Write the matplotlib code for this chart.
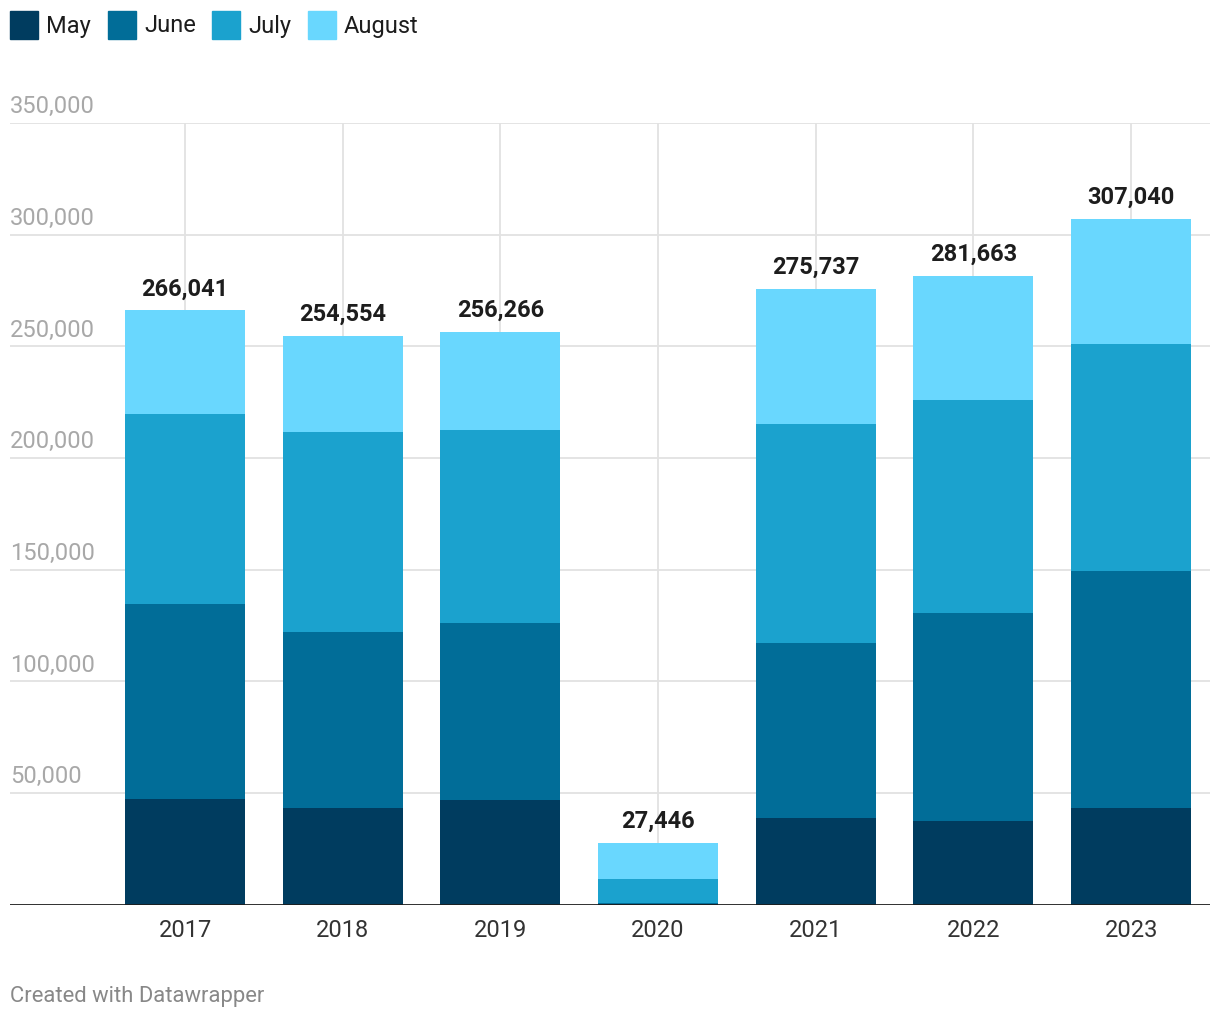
import matplotlib.pyplot as plt
from matplotlib.patches import Rectangle
import numpy as np

plt.rcParams['font.family'] = ['Roboto', 'DejaVu Sans']

# data
years = ['2017', '2018', '2019', '2020', '2021', '2022', '2023']
months = ['May', 'June', 'July', 'August']
may = [47200, 43200, 46800, 200, 38700, 37400, 43200]
june = [87300, 78800, 79200, 400, 78350, 93100, 106070]
july = [85050, 89530, 86400, 10800, 98020, 95320, 101610]
totals = [266041, 254554, 256266, 27446, 275737, 281663, 307040]
august = [t - a - b - c for t, a, b, c in zip(totals, may, june, july)]
colors = ['#003c5f', '#016d98', '#1ba2ce', '#69d7fe']

W, H = 1220, 1020
fig = plt.figure(figsize=(W / 100, H / 100), dpi=100)
ax = fig.add_axes([10 / W, (H - 905.5) / H, 1200 / W, (905.5 - 124) / H])

x = np.arange(len(years))
bottom = np.zeros(len(years))
for vals, col in zip([may, june, july, august], colors):
    ax.bar(x, vals, width=0.761, bottom=bottom, color=col, zorder=3)
    bottom += np.array(vals)

for xi, t in zip(x, totals):
    ax.annotate(f'{t:,}', (xi, t), xytext=(0, 8), textcoords='offset points',
                ha='center', va='bottom', fontsize=17, fontweight='bold', color='#1d1d1d')

ax.set_xlim(-1.11, 6.50)
ax.set_ylim(0, 350000)

# gridlines
for yv in range(50000, 350001, 50000):
    ax.axhline(yv, color='#e2e2e2', lw=1.3, zorder=1)
    ax.annotate(f'{yv:,}', (0, yv), xycoords=('axes fraction', 'data'),
                xytext=(0, 4), textcoords='offset points', ha='left', va='bottom',
                fontsize=17, color='#a8a8a8')
for xi in x:
    ax.axvline(xi, color='#e2e2e2', lw=1.3, zorder=1)
ax.axhline(0, color='#1d1d1d', lw=2, zorder=4)

for s in ax.spines.values():
    s.set_visible(False)
ax.set_yticks([])
ax.set_xticks(x)
ax.set_xticklabels(years, fontsize=17, color='#333333')
ax.tick_params(axis='x', length=0, pad=10)

# legend
leg_x = [10, 108, 212, 308]
for lx, name, col in zip(leg_x, months, colors):
    fig.patches.append(Rectangle((lx / W, 1 - 40 / H), 28 / W, 28 / H,
                                 transform=fig.transFigure, color=col))
    fig.text((lx + 36) / W, 1 - 26 / H, name, fontsize=17, color='#1d1d1d',
             ha='left', va='center')

fig.text(10 / W, 1 - 997 / H, 'Created with Datawrapper', fontsize=15.8,
         color='#888888', ha='left', va='center')

fig.savefig('out.png', dpi=100, facecolor='white')
